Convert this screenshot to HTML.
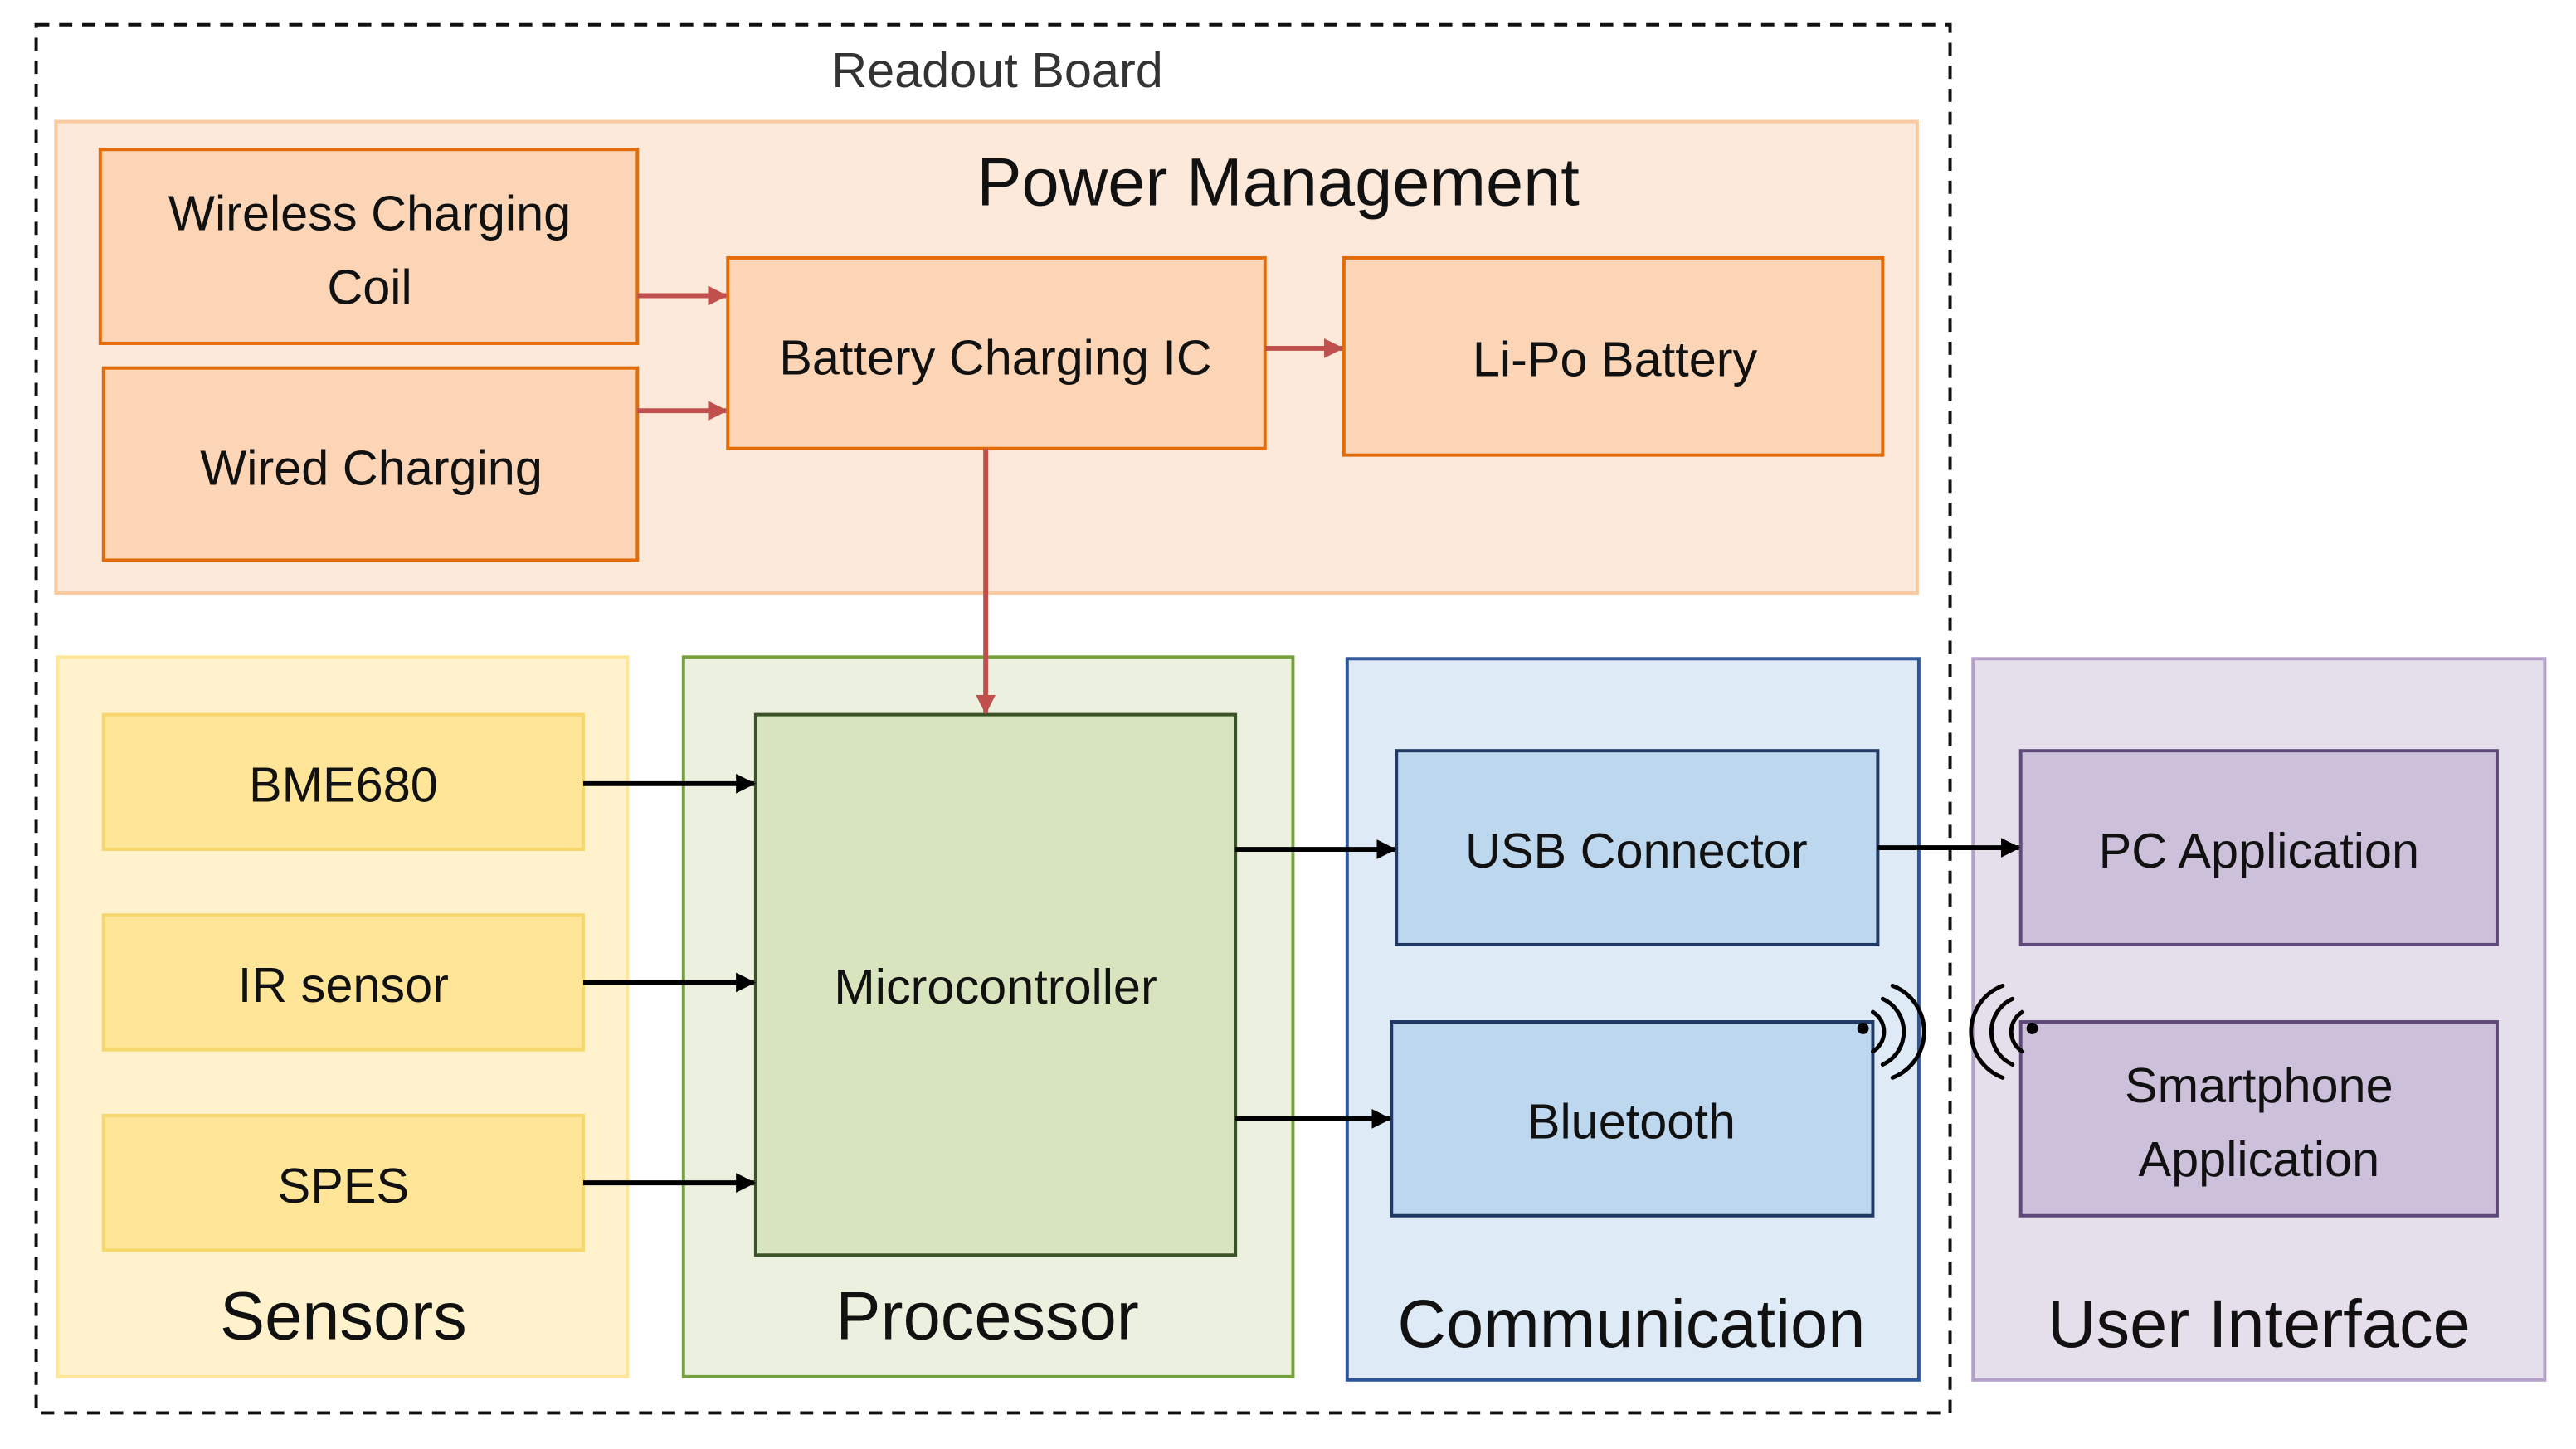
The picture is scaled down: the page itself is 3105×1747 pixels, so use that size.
<!DOCTYPE html>
<html><head><meta charset="utf-8"><style>
html,body{margin:0;padding:0;background:#fff;}
svg{display:block;}
text{font-family:"Liberation Sans",sans-serif;fill:#111;text-anchor:middle;}
</style></head><body>
<svg width="3105" height="1747" viewBox="0 0 1568 882" preserveAspectRatio="none" xmlns="http://www.w3.org/2000/svg">
<defs>
<marker id="ar" markerWidth="12" markerHeight="12" refX="11" refY="6" orient="auto" markerUnits="userSpaceOnUse"><path d="M0,0 L12,6 L0,12 z" fill="#c0504d"/></marker>
<marker id="ab" markerWidth="12" markerHeight="12" refX="11" refY="6" orient="auto" markerUnits="userSpaceOnUse"><path d="M0,0 L12,6 L0,12 z" fill="#000"/></marker>
</defs>
<rect x="22" y="15" width="1165" height="845" fill="none" stroke="#111" stroke-width="2" stroke-dasharray="8,6"/>
<text x="607" y="53" font-size="30" style="fill:#333">Readout Board</text>

<rect x="34" y="74" width="1133" height="287" fill="#fce9da" stroke="#f9c9a0" stroke-width="2"/>
<text x="778" y="125" font-size="41">Power Management</text>
<g fill="#fbd5b5" stroke="#e36c09" stroke-width="2">
<rect x="61" y="91" width="327" height="118"/>
<rect x="63" y="224" width="325" height="117"/>
<rect x="443" y="157" width="327" height="116"/>
<rect x="818" y="157" width="328" height="120"/>
</g>
<text x="225" y="140" font-size="30">Wireless Charging</text>
<text x="225" y="185" font-size="30">Coil</text>
<text x="226" y="295" font-size="30">Wired Charging</text>
<text x="606" y="228" font-size="30">Battery Charging IC</text>
<text x="983" y="229" font-size="30">Li-Po Battery</text>

<rect x="35" y="400" width="347" height="438" fill="#fff2cc" stroke="#ffe699" stroke-width="2"/>
<g fill="#ffe597" stroke="#f5d76e" stroke-width="2">
<rect x="63" y="435" width="292" height="82"/>
<rect x="63" y="557" width="292" height="82"/>
<rect x="63" y="679" width="292" height="82"/>
</g>
<text x="209" y="488" font-size="30">BME680</text>
<text x="209" y="610" font-size="30">IR sensor</text>
<text x="209" y="732" font-size="30">SPES</text>
<text x="209" y="815" font-size="41">Sensors</text>

<rect x="416" y="400" width="371" height="438" fill="#ebf1de" stroke="#77a13f" stroke-width="2"/>
<rect x="460" y="435" width="292" height="329" fill="#d7e4bd" stroke="#3b5226" stroke-width="2"/>
<text x="606" y="611" font-size="30">Microcontroller</text>
<text x="601" y="815" font-size="41">Processor</text>

<rect x="820" y="401" width="348" height="439" fill="#deebf7" stroke="#2e5597" stroke-width="2"/>
<rect x="850" y="457" width="293" height="118" fill="#bdd7ee" stroke="#1f3864" stroke-width="2"/>
<rect x="847" y="622" width="293" height="118" fill="#bdd7ee" stroke="#1f3864" stroke-width="2"/>
<text x="996" y="528" font-size="30">USB Connector</text>
<text x="993" y="693" font-size="30">Bluetooth</text>
<text x="993" y="820" font-size="41">Communication</text>

<rect x="1201" y="401" width="348" height="439" fill="#e5dfec" stroke="#b4a0c8" stroke-width="2"/>
<rect x="1230" y="457" width="290" height="118" fill="#ccc0da" stroke="#5f497a" stroke-width="2"/>
<rect x="1230" y="622" width="290" height="118" fill="#ccc0da" stroke="#5f497a" stroke-width="2"/>
<text x="1375" y="528" font-size="30">PC Application</text>
<text x="1375" y="671" font-size="30">Smartphone</text>
<text x="1375" y="716" font-size="30">Application</text>
<text x="1375" y="820" font-size="41">User Interface</text>

<g stroke="#c0504d" stroke-width="3" fill="none">
<line x1="388" y1="180" x2="442" y2="180" marker-end="url(#ar)"/>
<line x1="388" y1="250" x2="442" y2="250" marker-end="url(#ar)"/>
<line x1="770" y1="212" x2="817" y2="212" marker-end="url(#ar)"/>
<line x1="600" y1="273" x2="600" y2="434" marker-end="url(#ar)"/>
</g>
<g stroke="#000" stroke-width="3" fill="none">
<line x1="355" y1="477" x2="459" y2="477" marker-end="url(#ab)"/>
<line x1="355" y1="598" x2="459" y2="598" marker-end="url(#ab)"/>
<line x1="355" y1="720" x2="459" y2="720" marker-end="url(#ab)"/>
<line x1="752" y1="517" x2="849" y2="517" marker-end="url(#ab)"/>
<line x1="752" y1="681" x2="846" y2="681" marker-end="url(#ab)"/>
<line x1="1143" y1="516" x2="1229" y2="516" marker-end="url(#ab)"/>
</g>

<g stroke="#000" stroke-width="2.5" fill="none" stroke-linecap="round">
<circle cx="1134" cy="626" r="3.5" fill="#000" stroke="none"/>
<path d="M1140,616 A14,14 0 0 1 1140,640"/>
<path d="M1146,608 A22,22 0 0 1 1146,648"/>
<path d="M1152,600 A30,30 0 0 1 1152,656"/>
<circle cx="1237" cy="626" r="3.5" fill="#000" stroke="none"/>
<path d="M1231,616 A14,14 0 0 0 1231,640"/>
<path d="M1225,608 A22,22 0 0 0 1225,648"/>
<path d="M1219,600 A30,30 0 0 0 1219,656"/>
</g>
</svg>
</body></html>
